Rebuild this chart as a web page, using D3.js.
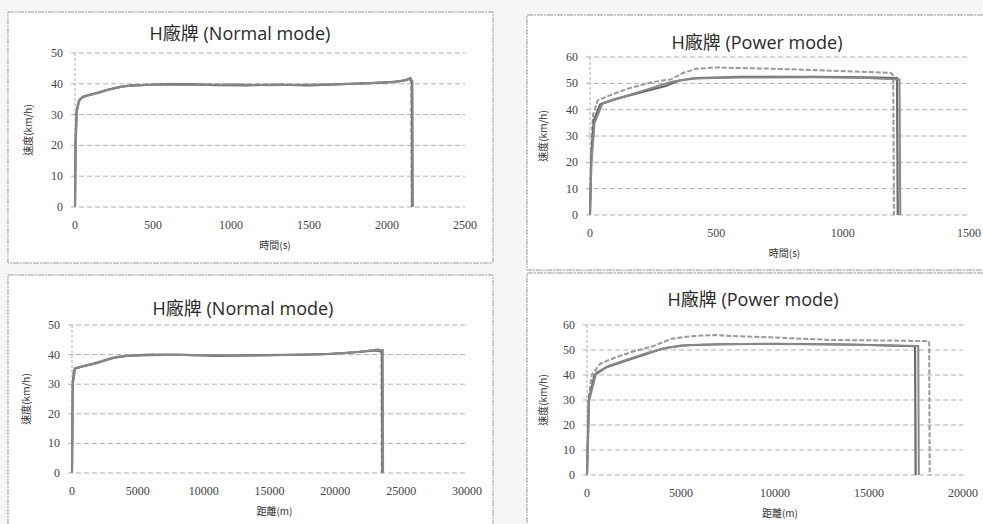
<!DOCTYPE html>
<html>
<head>
<meta charset="utf-8" />
<title>H廠牌 speed curves</title>
<script src="https://cdn.jsdelivr.net/npm/d3@7"></script>
<style>
    body { margin: 0; background: #f6f6f6; }
    .title { font: 18px "Open Sans", "Noto Sans CJK TC", sans-serif; fill: #2a2a2a; }
    .tick-label { font: 12px "Liberation Serif", serif; fill: #444; }
    .axis-title { font: 10px "Noto Sans CJK TC", sans-serif; fill: #333; }
    .grid { stroke: #8f8f8f; stroke-width: 1; stroke-dasharray: 5,3; opacity: 0.7; }
    .frame { fill: #fff; stroke: #9c9c9c; stroke-width: 1; stroke-dasharray: 6,1,2,1; }
</style>
</head>
<body>
<svg width="983" height="524"></svg>
<script>
// ---- data ----
var yTicks50 = [0, 10, 20, 30, 40, 50];
var yTicks60 = [0, 10, 20, 30, 40, 50, 60];
var timeTicksNormal = [0, 500, 1000, 1500, 2000, 2500];
var timeTicksPower = [0, 500, 1000, 1500];
var distTicksNormal = [0, 5000, 10000, 15000, 20000, 25000, 30000];
var distTicksPower = [0, 5000, 10000, 15000, 20000];

// Normal mode, speed vs time (three nearly identical runs)
var normalTime1 = [[0,0],[3,20],[8,30],[20,34],[40,35.5],[80,36.2],[150,37],[200,38],[260,38.5],[300,39.2],[400,39.5],[600,40],[800,39.8],[1000,39.7],[1200,39.6],[1400,39.6],[1600,39.7],[1800,40],[2000,40.4],[2100,41],[2140,41.5],[2155,41],[2158,0]];
var normalTime2 = [[0,0],[4,22],[10,31],[25,34.5],[50,35.8],[100,36.5],[170,37.4],[220,38.2],[290,39],[350,39.4],[500,39.7],[700,39.9],[900,39.6],[1100,39.5],[1300,39.7],[1500,39.5],[1700,39.9],[1900,40.2],[2050,40.6],[2120,41.2],[2150,41.8],[2160,40.5],[2162,0]];
var normalTime3 = [[0,0],[5,21],[12,31],[30,35],[60,35.8],[120,36.8],[190,37.8],[240,38.4],[320,39.3],[450,39.6],[650,39.8],[850,39.7],[1050,39.8],[1250,39.5],[1450,39.7],[1650,39.8],[1850,40.1],[2000,40.5],[2110,41],[2145,41.6],[2163,41],[2166,0]];

// Power mode, speed vs time
var powerTime1 = [[0,0],[5,25],[12,38],[30,43.5],[80,45.5],[150,48],[250,50.5],[320,51.5],[370,54],[420,55.5],[500,56],[700,55.6],[900,55],[1100,54.3],[1190,54],[1200,53],[1203,0]];
var powerTime2 = [[0,0],[5,22],[15,36],[40,42],[100,44],[200,46.5],[300,49],[350,51],[420,52],[600,52.5],[900,52.5],[1100,52.3],[1215,52],[1218,0]];
var powerTime3 = [[0,0],[6,20],[18,35],[50,42.5],[120,44.5],[220,47.5],[320,50.5],[400,51.8],[600,52.2],[900,52.3],[1100,52],[1225,51.5],[1228,0]];

// Normal mode, speed vs distance
var normalDist1 = [[0,0],[50,30],[150,35],[600,35.8],[1200,36.5],[2000,37.2],[2800,38.5],[3500,39.3],[4500,39.7],[6000,40],[9000,39.8],[12000,39.7],[15000,39.8],[18000,40],[20000,40.3],[22000,41],[23300,41.8],[23500,41.5],[23530,0]];
var normalDist2 = [[0,0],[60,31],[200,35.3],[800,36],[1500,36.8],[2300,37.8],[3100,38.9],[4000,39.5],[5500,39.9],[8000,40],[11000,39.6],[14000,39.8],[17000,39.9],[19500,40.2],[21500,40.8],[23000,41.4],[23550,41],[23580,0]];
var normalDist3 = [[0,0],[70,30],[250,35.5],[1000,36.2],[1800,37],[2600,38.2],[3300,39.1],[4200,39.6],[7000,39.9],[10000,39.9],[13000,39.6],[16000,39.9],[19000,40.1],[21000,40.6],[22800,41.3],[23600,41.6],[23630,0]];

// Power mode, speed vs distance
var powerDist1 = [[0,0],[80,30],[250,40],[700,44.5],[1500,47],[2500,49.5],[3500,51.5],[4500,54.5],[5500,55.5],[6800,56],[8000,55.5],[10000,55],[13000,54],[16000,53.8],[18200,53.5],[18230,0]];
var powerDist2 = [[0,0],[100,30],[400,40],[1000,43],[2000,45.5],[3000,48],[4000,50.5],[5000,51.8],[7000,52.3],[10000,52.5],[14000,52.2],[17450,51.5],[17480,0]];
var powerDist3 = [[0,0],[120,30],[500,41],[1200,43.8],[2200,46.3],[3200,48.8],[4300,51],[5500,52],[8000,52.4],[12000,52.3],[15000,52],[17620,51.6],[17650,0]];

var svg = d3.select('svg');

// panel frames (scanned page look)
var frames = [
    { x: 8, y: 12, w: 485, h: 251 },
    { x: 527, y: 15, w: 460, h: 255 },
    { x: 8, y: 275, w: 485, h: 255 },
    { x: 527, y: 273, w: 460, h: 255 }
];
svg.selectAll('rect.frame')
    .data(frames)
    .enter().append('rect')
    .attr('class', 'frame')
    .attr('x', function(d) { return d.x; })
    .attr('y', function(d) { return d.y; })
    .attr('width', function(d) { return d.w; })
    .attr('height', function(d) { return d.h; });

var panels = [
    { title: 'H廠牌 (Normal mode)', xTitle: '時間(s)', left: 75, right: 465, top: 53, bottom: 207,
      xDomain: [0, 2500], yDomain: [0, 50], xTicks: timeTicksNormal, yTicks: yTicks50,
      series: [normalTime1, normalTime2, normalTime3], titleX: 240, titleY: 40, yTitleX: 32 },
    { title: 'H廠牌 (Power mode)', xTitle: '時間(s)', left: 590, right: 969, top: 57, bottom: 215,
      xDomain: [0, 1500], yDomain: [0, 60], xTicks: timeTicksPower, yTicks: yTicks60,
      series: [powerTime1, powerTime2, powerTime3], titleX: 757, titleY: 49, yTitleX: 547 },
    { title: 'H廠牌 (Normal mode)', xTitle: '距離(m)', left: 72, right: 467, top: 325, bottom: 473,
      xDomain: [0, 30000], yDomain: [0, 50], xTicks: distTicksNormal, yTicks: yTicks50,
      series: [normalDist1, normalDist2, normalDist3], titleX: 243, titleY: 315, yTitleX: 30 },
    { title: 'H廠牌 (Power mode)', xTitle: '距離(m)', left: 587, right: 963, top: 325, bottom: 475,
      xDomain: [0, 20000], yDomain: [0, 60], xTicks: distTicksPower, yTicks: yTicks60,
      series: [powerDist1, powerDist2, powerDist3], titleX: 753, titleY: 306, yTitleX: 547 }
];

var seriesStyle = [
    { stroke: '#999', width: 2, dash: '5,2' },
    { stroke: '#6a6a6a', width: 2.2, dash: null },
    { stroke: '#888', width: 2, dash: null }
];

panels.forEach(drawPanel);

function drawPanel(p) {
    var x = d3.scaleLinear().domain(p.xDomain).range([p.left, p.right]);
    var y = d3.scaleLinear().domain(p.yDomain).range([p.bottom, p.top]);
    var g = svg.append('g');

    // horizontal grid
    g.selectAll('line.grid')
        .data(p.yTicks)
        .enter().append('line')
        .attr('class', 'grid')
        .attr('x1', p.left - 4)
        .attr('x2', p.right)
        .attr('y1', function(d) { return y(d); })
        .attr('y2', function(d) { return y(d); });

    // y axis line
    g.append('line')
        .attr('x1', p.left).attr('x2', p.left)
        .attr('y1', p.top).attr('y2', p.bottom)
        .attr('stroke', '#b0b0b0').attr('stroke-dasharray', '3,2');

    // tick labels
    g.selectAll('text.ylab')
        .data(p.yTicks)
        .enter().append('text')
        .attr('class', 'tick-label')
        .attr('x', p.left - 12)
        .attr('y', function(d) { return y(d) + 4; })
        .attr('text-anchor', 'end')
        .text(function(d) { return d; });

    g.selectAll('text.xlab')
        .data(p.xTicks)
        .enter().append('text')
        .attr('class', 'tick-label')
        .attr('x', function(d) { return x(d); })
        .attr('y', p.bottom + 22)
        .attr('text-anchor', 'middle')
        .text(function(d) { return d; });

    // titles
    g.append('text')
        .attr('class', 'title')
        .attr('x', p.titleX).attr('y', p.titleY)
        .attr('text-anchor', 'middle')
        .text(p.title);

    g.append('text')
        .attr('class', 'axis-title')
        .attr('x', (p.left + p.right) / 2 + 5).attr('y', p.bottom + 42)
        .attr('text-anchor', 'middle')
        .text(p.xTitle);

    g.append('text')
        .attr('class', 'axis-title')
        .attr('transform', 'translate(' + p.yTitleX + ',' + (p.top + p.bottom) / 2 + ') rotate(-90)')
        .attr('text-anchor', 'middle')
        .text('速度(km/h)');

    // speed curves
    var line = d3.line()
        .x(function(d) { return x(d[0]); })
        .y(function(d) { return y(d[1]); });

    g.selectAll('path.curve')
        .data(p.series)
        .enter().append('path')
        .attr('class', 'curve')
        .attr('fill', 'none')
        .attr('d', line)
        .attr('stroke', function(d, i) { return seriesStyle[i].stroke; })
        .attr('stroke-width', function(d, i) { return seriesStyle[i].width; })
        .attr('stroke-dasharray', function(d, i) { return seriesStyle[i].dash; });
}
</script>
</body>
</html>
